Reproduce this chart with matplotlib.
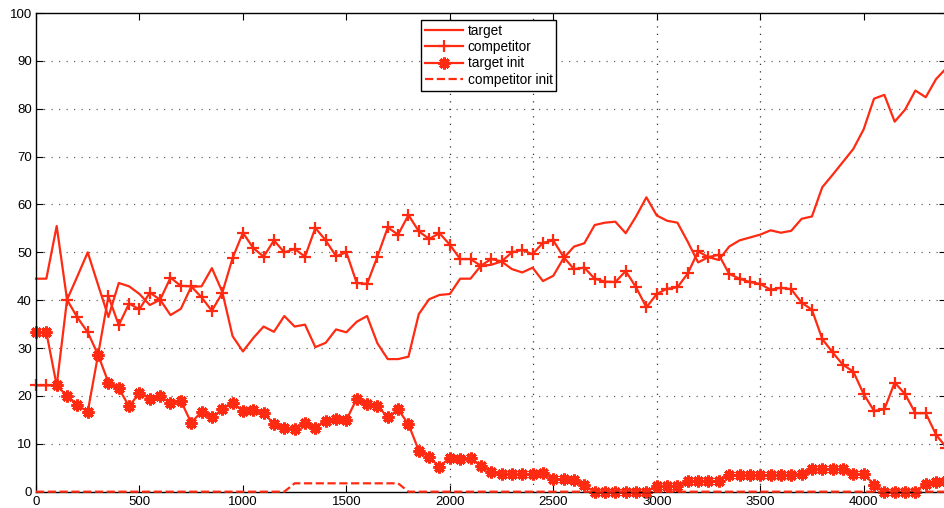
import numpy as np
import matplotlib
matplotlib.use("Agg")
from matplotlib import pyplot as plt

plt.rcParams['font.family'] = ['Liberation Sans', 'DejaVu Sans']

# Iterations (one sample every 50)
x = np.arange(0, 4450, 50)

target = [44.5, 44.5, 55.5, 40.1, 45.0, 50.0, 43.2, 36.5, 43.6, 42.9,
          41.3, 39.0, 40.1, 36.9, 38.2, 42.8, 42.9, 46.7, 41.8, 32.5,
          29.3, 32.1, 34.5, 33.4, 36.7, 34.5, 34.9, 30.2, 31.1, 33.9,
          33.3, 35.5, 36.7, 31.0, 27.7, 27.7, 28.2, 37.1, 40.2, 41.1,
          41.3, 44.5, 44.5, 47.2, 47.4, 48.1, 46.5, 45.8, 46.8, 44.0,
          45.1, 48.8, 51.2, 51.9, 55.7, 56.2, 56.4, 54.0, 57.5, 61.5,
          57.7, 56.6, 56.2, 52.2, 47.9, 49.0, 48.4, 51.2, 52.5, 53.1,
          53.7, 54.6, 54.1, 54.5, 57.0, 57.5, 63.6, 66.2, 68.9, 71.6,
          75.7, 82.1, 82.9, 77.3, 79.8, 83.8, 82.4, 86.2, 88.5]

competitor = [22.2, 22.2, 22.2, 40.1, 36.4, 33.3, 28.6, 40.8, 34.8, 39.3,
              38.1, 41.6, 40.1, 44.7, 43.0, 42.9, 40.6, 37.8, 41.5, 48.8,
              54.1, 50.9, 49.1, 52.5, 50.0, 50.7, 49.1, 55.1, 52.5, 49.2,
              50.0, 43.6, 43.4, 49.1, 55.2, 53.7, 57.8, 54.4, 52.8, 54.0,
              51.6, 48.6, 48.6, 47.2, 48.6, 48.1, 50.0, 50.5, 49.6, 52.0,
              52.5, 49.0, 46.5, 46.8, 44.5, 43.9, 43.8, 46.1, 42.7, 38.5,
              41.3, 42.4, 42.7, 45.6, 50.2, 49.0, 49.5, 45.5, 44.5, 43.8,
              43.4, 42.2, 42.6, 42.3, 39.5, 38.0, 31.9, 29.1, 26.5, 25.1,
              20.4, 16.9, 17.2, 22.8, 20.4, 16.4, 16.4, 11.9, 9.2]

target_init = [33.3, 33.3, 22.2, 20.0, 18.1, 16.7, 28.6, 22.8, 21.6, 17.8,
               20.7, 19.4, 20.0, 18.5, 19.0, 14.4, 16.7, 15.5, 17.2, 18.6,
               16.9, 17.1, 16.5, 14.1, 13.4, 13.0, 14.3, 13.4, 14.8, 15.2,
               15.0, 19.4, 18.3, 18.0, 15.5, 17.2, 14.1, 8.6, 7.2, 5.2,
               7.1, 6.8, 7.0, 5.4, 4.1, 3.8, 3.7, 3.7, 3.7, 3.9,
               2.6, 2.6, 2.4, 1.3, 0, 0, 0, 0, 0, 0,
               1.2, 1.2, 1.2, 2.2, 2.2, 2.2, 2.2, 3.5, 3.5, 3.5,
               3.4, 3.5, 3.5, 3.5, 3.6, 4.7, 4.7, 4.7, 4.7, 3.7,
               3.7, 1.5, 0, 0, 0, 0, 1.7, 2.1, 2.3]

competitor_init = [0] * 25 + [1.75] * 11 + [0] * 53

red = '#ff2a12'

fig = plt.figure(figsize=(9.45, 5.08), dpi=100)
ax = fig.add_axes([0.0381, 0.0321, 0.9634, 0.9423])

ax.plot(x, target, '-', color=red, lw=1.6, label='target', clip_on=False)
ax.plot(x, competitor, '-', color=red, lw=1.6, marker='+', ms=9, mew=1.6,
        label='competitor', clip_on=False)
ax.plot(x, target_init, '-', color=red, lw=1.6, marker=(8, 2, 0), ms=8.5, mew=2.2,
        label='target init', clip_on=False)
ax.plot(x, competitor_init, '--', color=red, lw=1.6, label='competitor init',
        clip_on=False, zorder=3)

ax.set_xlim(0, 4400)
ax.set_ylim(0, 100)
ax.set_xticks(np.arange(0, 4001, 500))
ax.set_yticks(np.arange(0, 101, 10))

# dotted grid: horizontal everywhere, vertical only at a few places
for yv in range(10, 100, 10):
    ax.axhline(yv, color='#666666', lw=0.9, ls=(0, (1, 5)), zorder=0)
for xv in [2000, 2400, 3000, 3500]:
    ax.axvline(xv, color='#333333', lw=0.9, ls=(0, (1, 5)), zorder=0)

ax.tick_params(direction='in', top=True, right=True, length=5, width=0.8,
               labelsize=9.5, pad=3)
for s in ax.spines.values():
    s.set_linewidth(1.0)

leg = ax.legend(loc='upper left', bbox_to_anchor=(0.4227, 0.986), fontsize=9.8,
                numpoints=1, fancybox=False, edgecolor='black', framealpha=1,
                handlelength=2.8, handletextpad=0.35, labelspacing=0.18,
                borderpad=0.28, borderaxespad=0)
leg.get_frame().set_linewidth(1.0)

fig.savefig('out.png', dpi=100)
